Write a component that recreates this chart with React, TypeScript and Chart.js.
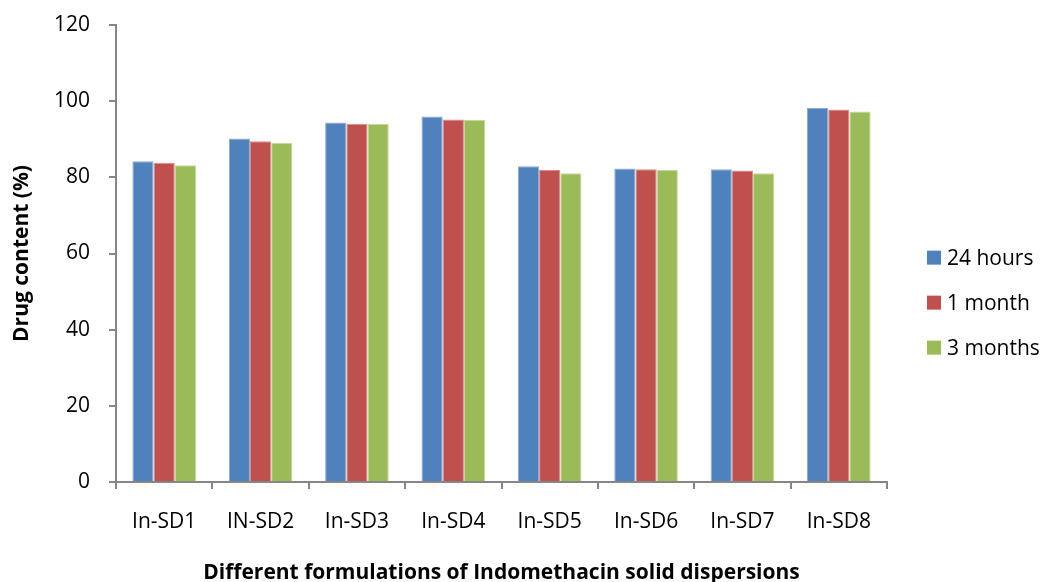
import React, { useEffect, useRef } from "react";
import { Chart, registerables } from "chart.js";

Chart.register(...registerables);

const categories = ["In-SD1", "IN-SD2", "In-SD3", "In-SD4", "In-SD5", "In-SD6", "In-SD7", "In-SD8"];
const hours24 = [84.2, 90.2, 94.4, 96.0, 82.9, 82.3, 82.1, 98.2];
const month1 = [83.8, 89.5, 94.1, 95.2, 81.9, 82.1, 81.8, 97.8];
const months3 = [83.2, 89.0, 94.0, 95.1, 81.1, 81.9, 81.1, 97.3];
const seriesNames = ["24 hours", "1 month", "3 months"];
const yTicks = [0, 20, 40, 60, 80, 100, 120];

const FONT = "'Open Sans', 'Liberation Sans', sans-serif";
const AXIS_GREY = "#868686";

// Vertical legend at the right of the plot, one square swatch per series.
const sideLegend = {
  id: "sideLegend",
  afterDraw(chart: any) {
    const { ctx, chartArea } = chart;
    const sets = chart.data.datasets;
    const gap = 45;
    const midY = chart.height * 0.52;
    const firstY = midY - ((sets.length - 1) * gap) / 2;
    const x = chartArea.right + 40;
    ctx.save();
    ctx.font = `21px ${FONT}`;
    ctx.textBaseline = "middle";
    ctx.textAlign = "left";
    sets.forEach((ds: any, i: number) => {
      const y = firstY + i * gap;
      ctx.fillStyle = ds.backgroundColor;
      ctx.fillRect(x, y - 7, 14, 14);
      ctx.fillStyle = "#000";
      ctx.fillText(ds.label, x + 20, y + 1);
    });
    ctx.restore();
  },
};

export default function App() {
  const canvasRef = useRef<HTMLCanvasElement | null>(null);

  useEffect(() => {
    if (!canvasRef.current) return;
    const chart = new Chart(canvasRef.current, {
      type: "bar",
      data: {
        labels: categories,
        datasets: [
          { label: seriesNames[0], data: hours24, backgroundColor: "#4F81BD", borderColor: "#8AAAD6", borderWidth: 1, borderSkipped: "bottom" },
          { label: seriesNames[1], data: month1, backgroundColor: "#C0504D", borderColor: "#D98B89", borderWidth: 1, borderSkipped: "bottom" },
          { label: seriesNames[2], data: months3, backgroundColor: "#9BBB59", borderColor: "#C3D89C", borderWidth: 1, borderSkipped: "bottom" },
        ],
      },
      options: {
        responsive: false,
        animation: false,
        layout: { padding: { top: 25, right: 158, left: 0, bottom: 0 } },
        datasets: { bar: { categoryPercentage: 0.66, barPercentage: 1 } },
        plugins: {
          legend: { display: false },
          tooltip: { enabled: false },
        },
        scales: {
          x: {
            afterFit: (s: any) => { s.height = 100; s.paddingLeft = 0; s.paddingRight = 0; },
            grid: { display: true, drawOnChartArea: false, drawTicks: true, tickLength: 7, color: AXIS_GREY, lineWidth: 2, offset: true },
            border: { display: true, color: AXIS_GREY, width: 2 },
            ticks: { color: "#000", font: { family: FONT, size: 21 }, padding: 20, maxRotation: 0 },
            title: {
              display: true,
              text: "Different formulations of Indomethacin solid dispersions",
              color: "#000",
              font: { family: FONT, size: 21, weight: "bold", lineHeight: 0.9 },
              padding: { top: 0, bottom: 0 },
            },
          },
          y: {
            min: 0,
            max: 120,
            afterFit: (s: any) => { s.width = 116; s.paddingTop = 0; s.paddingBottom = 0; },
            afterBuildTicks: (s: any) => { s.ticks = yTicks.map((v) => ({ value: v })); },
            grid: { display: true, drawOnChartArea: false, drawTicks: true, tickLength: 7, color: AXIS_GREY, lineWidth: 2 },
            border: { display: true, color: AXIS_GREY, width: 2 },
            ticks: { color: "#000", font: { family: FONT, size: 21 }, padding: 19 },
            title: {
              display: true,
              text: "Drug content (%)",
              color: "#000",
              font: { family: FONT, size: 21, weight: "bold" },
              padding: { top: 9, bottom: 0 },
            },
          },
        },
      },
      plugins: [sideLegend],
    });
    return () => chart.destroy();
  }, []);

  return (
    <div style={{ position: "absolute", left: 0, top: 0, width: 1045, height: 582, background: "#fff" }}>
      <canvas ref={canvasRef} width={1045} height={582} style={{ display: "block" }} />
    </div>
  );
}
